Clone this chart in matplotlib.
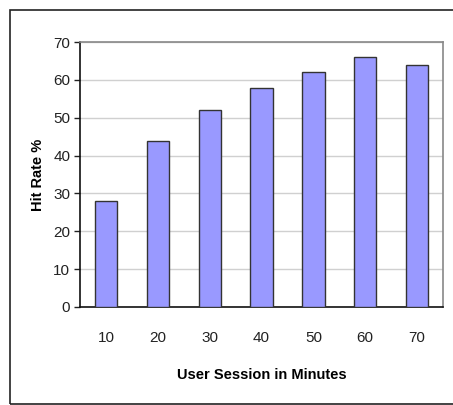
import matplotlib
matplotlib.use("Agg")
import matplotlib.pyplot as plt
from matplotlib.patches import Rectangle

session_minutes = ["10", "20", "30", "40", "50", "60", "70"]
hit_rate = [28, 44, 52, 58, 62, 66, 64]
y_ticks = [0, 10, 20, 30, 40, 50, 60, 70]

plt.rcParams['font.family'] = ['Liberation Sans', 'DejaVu Sans']

fig = plt.figure(figsize=(4.53, 4.05), dpi=100)
ax = fig.add_axes([0.1766, 0.242, 0.8014, 0.654])

# outer border around the whole chart area
fig.patches.append(Rectangle((10 / 453, 1 / 405), 1.2, 394 / 405,
                             transform=fig.transFigure, fill=False,
                             edgecolor="#222222", linewidth=1.2))

x = range(len(session_minutes))
ax.bar(x, hit_rate, width=0.43, color="#9999ff", edgecolor="#333333",
       linewidth=1.0, zorder=3)

ax.set_xlim(-0.5, len(session_minutes) - 0.5)
ax.set_ylim(0, 70)
ax.set_yticks(y_ticks)
ax.set_xticks(list(x))
ax.set_xticklabels(session_minutes)
ax.yaxis.grid(True, color="#d0d0d0", linewidth=1.0, zorder=0)

for side in ("top", "right"):
    ax.spines[side].set_color("#888888")
    ax.spines[side].set_linewidth(1.2)
for side in ("left", "bottom"):
    ax.spines[side].set_color("#111111")
    ax.spines[side].set_linewidth(1.2)

ax.tick_params(axis="y", length=4, width=1.0, pad=3, labelsize=11, colors="#222222")
ax.tick_params(axis="x", length=0, pad=17, labelsize=11, colors="#222222")

ax.set_ylabel("Hit Rate %", fontsize=10.5, fontweight="bold", labelpad=6)
ax.set_xlabel("User Session in Minutes", fontsize=10.5, fontweight="bold", labelpad=17)

fig.savefig("out.png", dpi=100)
